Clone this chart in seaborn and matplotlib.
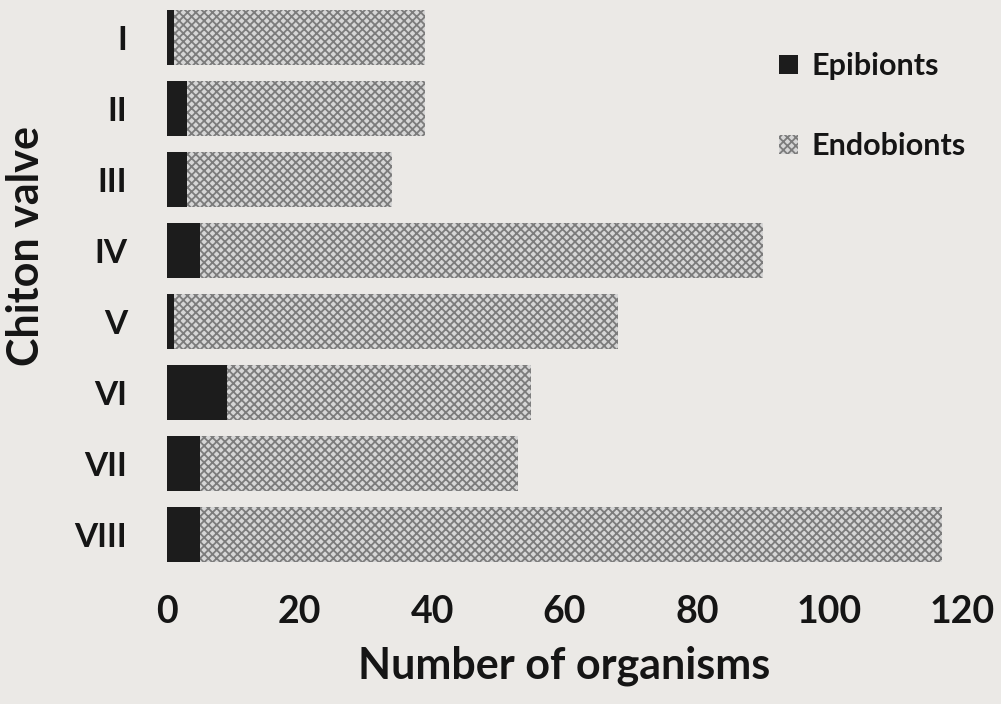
import matplotlib
matplotlib.use("Agg")
import matplotlib.pyplot as plt
import seaborn as sns
import pandas as pd
from matplotlib.patches import Patch

# --- Data ---
valves = ["I", "II", "III", "IV", "V", "VI", "VII", "VIII"]
epibionts = [1, 3, 3, 5, 1, 9, 5, 5]
endobionts = [38, 36, 31, 85, 67, 46, 48, 112]

df = pd.DataFrame({"Valve": valves, "Epibionts": epibionts, "Endobionts": endobionts})
df["Total"] = df["Epibionts"] + df["Endobionts"]

bg = "#ebe9e6"
endo_face = "#d6d6d6"
endo_hatch = "#7c7c7c"
epi_color = "#1c1c1c"
text_color = "#151515"

sns.set_theme(style="white")
plt.rcParams["font.family"] = ["Lato", "DejaVu Sans"]
plt.rcParams["font.weight"] = "bold"
plt.rcParams["hatch.linewidth"] = 1.3

fig = plt.figure(figsize=(10.01, 7.04), dpi=100, facecolor=bg)
ax = fig.add_axes([0.167, 0.19, 0.794, 0.807], facecolor=bg)

# endobionts drawn as the full stack, epibionts on top from zero
sns.barplot(data=df, y="Valve", x="Total", order=valves, orient="h",
            color=endo_face, width=0.78, saturation=1, ax=ax)
for p in ax.patches:
    p.set_hatch("xxxx")
    p.set_edgecolor(endo_hatch)
    p.set_linewidth(0)
n_endo = len(ax.patches)
sns.barplot(data=df, y="Valve", x="Epibionts", order=valves, orient="h",
            color=epi_color, width=0.78, saturation=1, ax=ax)
for p in ax.patches[n_endo:]:
    p.set_edgecolor("none")

ax.set_xlim(0, 120)
ax.set_xticks([0, 20, 40, 60, 80, 100, 120])
ax.tick_params(axis="x", labelsize=27, pad=18, length=0, colors=text_color)
ax.tick_params(axis="y", labelsize=24, pad=29, length=0, colors=text_color)
for lab in ax.get_xticklabels() + ax.get_yticklabels():
    lab.set_fontweight("bold")
ax.set_xlabel("Number of organisms", fontsize=31, fontweight="bold", labelpad=12, color=text_color)
ax.set_ylabel("Chiton valve", fontsize=31, fontweight="bold", color=text_color)
ax.yaxis.set_label_coords(-0.152, 0.57)
sns.despine(ax=ax, left=True, bottom=True)

handles = [Patch(facecolor=epi_color, edgecolor="none", label="Epibionts"),
           Patch(facecolor=endo_face, edgecolor=endo_hatch, linewidth=0, hatch="xxxx", label="Endobionts")]
leg = fig.legend(handles=handles, loc="upper left", bbox_to_anchor=(0.751, 0.965),
                 frameon=False, fontsize=22, handlelength=0.6, handleheight=0.6,
                 handletextpad=0.45, labelspacing=1.7)
for t in leg.get_texts():
    t.set_fontweight("bold")
    t.set_color(text_color)

fig.savefig("out.png", dpi=100, facecolor=bg)
